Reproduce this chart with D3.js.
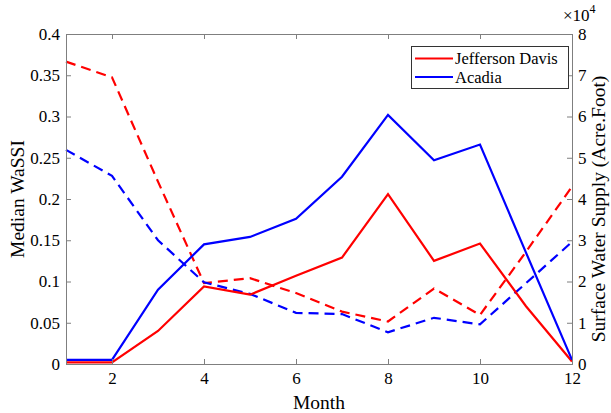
<!DOCTYPE html>
<html>
<head>
<meta charset="utf-8">
<script src="https://cdn.jsdelivr.net/npm/d3@7"></script>
<style>
  html, body { margin: 0; padding: 0; background: #fff; }
  svg { display: block; font-family: "Liberation Serif", "Times New Roman", serif; }
</style>
</head>
<body>
<svg id="chart" width="611" height="413"></svg>
<script>
// Monthly values
const months = [1, 2, 3, 4, 5, 6, 7, 8, 9, 10, 11, 12];
// Median WaSSI (left axis, solid lines)
const wassiJeffersonDavis = [0.002, 0.002, 0.040, 0.094, 0.084, 0.107, 0.129, 0.206, 0.125, 0.146, 0.070, 0.003];
const wassiAcadia         = [0.005, 0.005, 0.090, 0.145, 0.154, 0.176, 0.227, 0.302, 0.247, 0.266, 0.135, 0.005];
// Surface water supply in acre-feet (right axis, dashed lines)
const supplyJeffersonDavis = [73300, 69500, 44200, 19600, 20800, 17200, 12700, 10300, 18300, 11900, 27200, 43000];
const supplyAcadia         = [51900, 45600, 30000, 19800, 17000, 12400, 12100, 7700, 11200, 9600, 19600, 29600];

const seriesNames = ["Jefferson Davis", "Acadia"];
const seriesColors = ["#ff0000", "#0000ff"];

const xTicks = [2, 4, 6, 8, 10, 12];
const leftTicks = [0, 0.05, 0.1, 0.15, 0.2, 0.25, 0.3, 0.35, 0.4];
const rightTicks = [0, 10000, 20000, 30000, 40000, 50000, 60000, 70000, 80000];

const plot = { left: 66, right: 572, top: 34, bottom: 364 };
const axisColor = "#7f7f7f";
const tickFont = 17;
const titleFont = 19.5;

const svg = d3.select("#chart");

const x = d3.scaleLinear().domain([1, 12]).range([plot.left, plot.right]);
const yL = d3.scaleLinear().domain([0, 0.4]).range([plot.bottom, plot.top]);
const yR = d3.scaleLinear().domain([0, 80000]).range([plot.bottom, plot.top]);

function styleAxis(g) {
  g.select(".domain").attr("stroke", axisColor).attr("stroke-width", 1);
  g.selectAll(".tick line").attr("stroke", axisColor);
  g.selectAll(".tick text").attr("fill", "#000").style("font-size", tickFont + "px")
    .style("font-family", '"Liberation Serif", "Times New Roman", serif');
}

// Data lines
const lineL = d3.line().x((d, i) => x(months[i])).y(d => yL(d));
const lineR = d3.line().x((d, i) => x(months[i])).y(d => yR(d));

const dataG = svg.append("g");
[supplyJeffersonDavis, supplyAcadia].forEach((s, k) => {
  dataG.append("path").datum(s).attr("d", lineR)
    .attr("fill", "none").attr("stroke", seriesColors[k]).attr("stroke-width", 2.2)
    .attr("stroke-dasharray", "10,6");
});
[wassiJeffersonDavis, wassiAcadia].forEach((s, k) => {
  dataG.append("path").datum(s).attr("d", lineL)
    .attr("fill", "none").attr("stroke", seriesColors[k]).attr("stroke-width", 2.2);
});

// Axes
svg.append("g").attr("transform", `translate(0,${plot.bottom})`)
  .call(d3.axisBottom(x).tickValues(xTicks).tickSize(-5).tickPadding(8).tickFormat(d3.format("d")))
  .call(styleAxis);

svg.append("g").attr("transform", `translate(0,${plot.top})`)
  .call(d3.axisTop(x).tickValues(xTicks).tickSize(-5).tickFormat(""))
  .call(styleAxis);

svg.append("g").attr("transform", `translate(${plot.left},0)`)
  .call(d3.axisLeft(yL).tickValues(leftTicks).tickSize(-5).tickPadding(6).tickFormat(d => d3.format("")(+d.toFixed(2))))
  .call(styleAxis);

svg.append("g").attr("transform", `translate(${plot.right},0)`)
  .call(d3.axisRight(yR).tickValues(rightTicks).tickSize(-5).tickPadding(6).tickFormat(d => d / 10000))
  .call(styleAxis);

// Exponent marker for the right axis
const expText = svg.append("text").attr("x", 563).attr("y", 21)
  .style("font-size", tickFont + "px");
expText.append("tspan").text("×10");
expText.append("tspan").attr("dy", -8).style("font-size", "12px").text("4");

// Axis titles
svg.append("text").attr("x", (plot.left + plot.right) / 2).attr("y", 409)
  .attr("text-anchor", "middle").style("font-size", titleFont + "px").text("Month");

svg.append("text")
  .attr("transform", `translate(24,${(plot.top + plot.bottom) / 2}) rotate(-90)`)
  .attr("text-anchor", "middle").style("font-size", titleFont + "px").text("Median WaSSI");

svg.append("text")
  .attr("transform", `translate(605,${(plot.top + plot.bottom) / 2 + 10}) rotate(-90)`)
  .attr("text-anchor", "middle").style("font-size", titleFont + "px").text("Surface Water Supply (Acre.Foot)");

// Legend
const legend = svg.append("g");
legend.append("rect").attr("x", 411.5).attr("y", 46.5).attr("width", 157).attr("height", 42)
  .attr("fill", "#fff").attr("stroke", "#333").attr("stroke-width", 1);
seriesNames.forEach((name, k) => {
  const cy = 58.5 + k * 18.5;
  legend.append("line").attr("x1", 415).attr("x2", 453).attr("y1", cy).attr("y2", cy)
    .attr("stroke", seriesColors[k]).attr("stroke-width", 2.2);
  legend.append("text").attr("x", 455).attr("y", cy + 5.5)
    .style("font-size", "16.5px").text(name);
});
</script>
</body>
</html>
